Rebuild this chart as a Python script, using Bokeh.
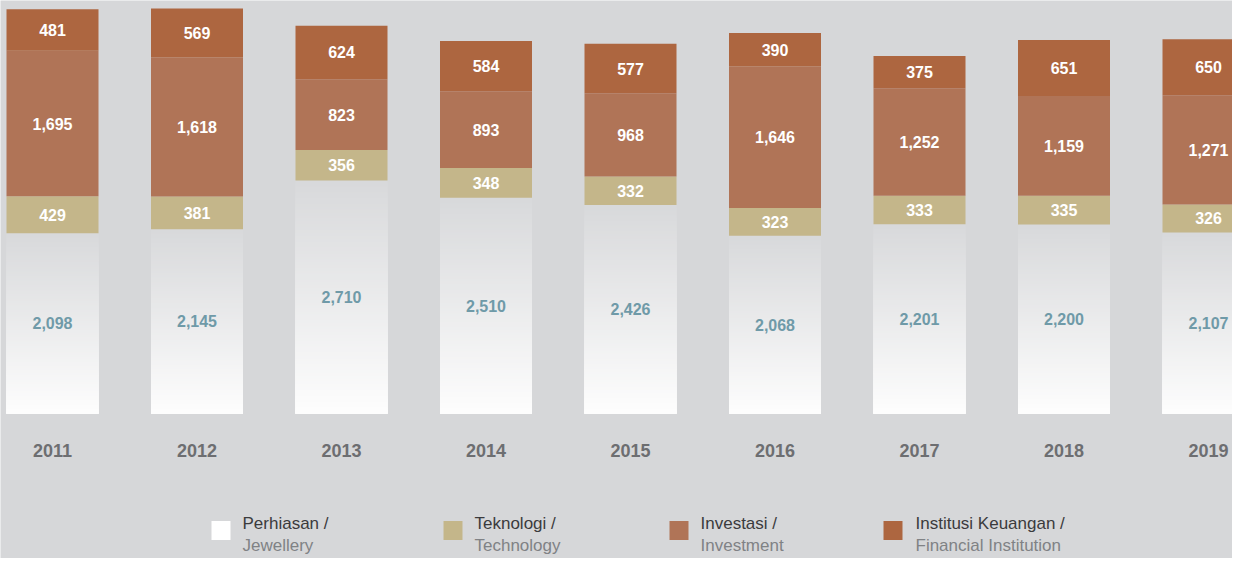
from bokeh.plotting import figure
from bokeh.models import Range1d
from bokeh.core.properties import value
from bokeh.embed import file_html
from bokeh.resources import INLINE

# ---- data ----
years = ["2011", "2012", "2013", "2014", "2015", "2016", "2017", "2018", "2019"]
jewellery = [2098, 2145, 2710, 2510, 2426, 2068, 2201, 2200, 2107]
technology = [429, 381, 356, 348, 332, 323, 333, 335, 326]
investment = [1695, 1618, 823, 893, 968, 1646, 1252, 1159, 1271]
financial = [481, 569, 624, 584, 577, 390, 375, 651, 650]

legend_top = ["Perhiasan /", "Teknologi /", "Investasi /", "Institusi Keuangan /"]
legend_bottom = ["Jewellery", "Technology", "Investment", "Financial Institution"]

# ---- style ----
BG = "#d6d7d9"
C_TECH = "#c4b68a"
C_INV = "#b07457"
C_FIN = "#ad6640"
GRAD_TOP = (216, 217, 219)
GRAD_BOT = (253, 253, 253)
FONT = value("Liberation Sans")

W, H = 1232, 558
BAR_TOP_PX = 8      # pixel of tallest bar top
BAR_BASE_PX = 413   # pixel of bar baseline

totals = [a + b + c + d for a, b, c, d in zip(jewellery, technology, investment, financial)]
ymax = max(totals)
upp = ymax / (BAR_BASE_PX - BAR_TOP_PX)  # data units per pixel


def px_y(py):  # figure pixel (from top) -> data y
    return ymax - (py - BAR_TOP_PX) * upp


y_end = px_y(0)
y_start = px_y(H)

SLOT_PX = 144.5
FIRST_C = 52.0
x_start = (0 - FIRST_C) / SLOT_PX
x_end = (W - FIRST_C) / SLOT_PX


def px_x(px):
    return (px - FIRST_C) / SLOT_PX


p = figure(width=W, height=H, output_backend="svg", toolbar_location=None,
           x_range=Range1d(x_start, x_end), y_range=Range1d(y_start, y_end),
           min_border=0, tools="")
p.background_fill_color = BG
p.border_fill_color = BG
p.outline_line_color = None
p.axis.visible = False
p.grid.visible = False

n = len(years)
xs = list(range(n))
bw = 92 / SLOT_PX
half = bw / 2

# gradient jewellery bars: painter's algorithm, tallest (darkest) first
N = 80
for j in range(N):
    t = j / (N - 1)
    col = tuple(int(round(GRAD_TOP[k] + (GRAD_BOT[k] - GRAD_TOP[k]) * t)) for k in range(3))
    hexc = "#%02x%02x%02x" % col
    frac = (N - j) / N
    p.quad(left=[x - half for x in xs], right=[x + half for x in xs],
           bottom=[0] * n, top=[v * frac for v in jewellery],
           fill_color=hexc, line_color=None)

b1 = jewellery
t1 = [a + b for a, b in zip(b1, technology)]
t2 = [a + b for a, b in zip(t1, investment)]
t3 = [a + b for a, b in zip(t2, financial)]

for bottoms, tops, col in [(b1, t1, C_TECH), (t1, t2, C_INV), (t2, t3, C_FIN)]:
    p.quad(left=[x - half for x in xs], right=[x + half for x in xs],
           bottom=bottoms, top=tops, fill_color=col, line_color=None)


def fmt(v):
    return f"{v:,}"

# value labels
p.text(x=xs, y=[v / 2 for v in jewellery], text=[fmt(v) for v in jewellery],
       text_align="center", text_baseline="middle", text_color="#6f9aa8",
       text_font=FONT, text_font_style="bold", text_font_size="16px")
for bottoms, vals in [(b1, technology), (t1, investment), (t2, financial)]:
    p.text(x=xs, y=[b + v / 2 for b, v in zip(bottoms, vals)], text=[fmt(v) for v in vals],
           text_align="center", text_baseline="middle", text_color="#ffffff",
           text_font=FONT, text_font_style="bold", text_font_size="16px")

# year labels
p.text(x=xs, y=[px_y(450)] * n, text=years, text_align="center", text_baseline="middle",
       text_color="#6d6e71", text_font=FONT, text_font_style="bold", text_font_size="18px")

# legend
sq_px = [220.5, 452.5, 678.5, 892.5]
tx_px = [242, 474, 700, 915]
sq_cols = ["#ffffff", C_TECH, C_INV, C_FIN]
p.scatter(x=[px_x(v) for v in sq_px], y=[px_y(530)] * 4, marker="square", size=19,
          fill_color=sq_cols, line_color=None)
p.text(x=[px_x(v) for v in tx_px], y=[px_y(523)] * 4, text=legend_top,
       text_align="left", text_baseline="middle", text_color="#3b3b3d",
       text_font=FONT, text_font_size="17px")
p.text(x=[px_x(v) for v in tx_px], y=[px_y(545)] * 4, text=legend_bottom,
       text_align="left", text_baseline="middle", text_color="#808285",
       text_font=FONT, text_font_size="17px")

open("out.html", "w").write(file_html(p, INLINE))
